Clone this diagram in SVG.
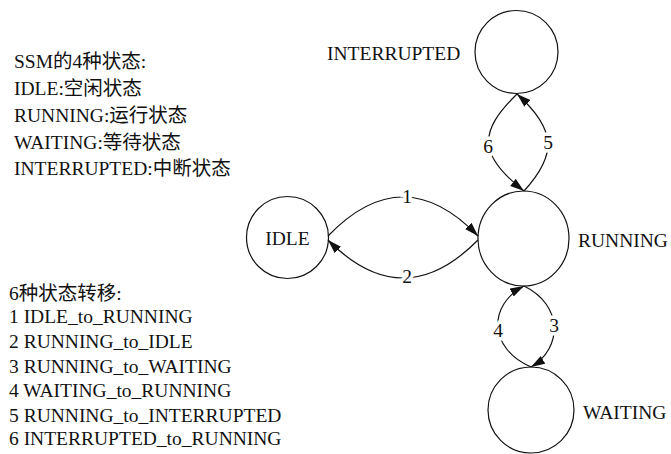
<svg xmlns="http://www.w3.org/2000/svg" width="671" height="454" viewBox="0 0 671 454" font-family="Liberation Serif, Times New Roman, Noto Sans CJK SC, serif" font-size="19.5">
<style>
text{fill:#111;}
.node{fill:none;stroke:#111;stroke-width:1.2;}
.edge{fill:none;stroke:#111;stroke-width:1.2;}
.el{text-anchor:middle;stroke:#fff;stroke-width:7;paint-order:stroke;}
</style>
<defs>
<marker id="arr" markerUnits="userSpaceOnUse" markerWidth="15" markerHeight="10" refX="14" refY="4.5" orient="auto">
<path d="M0,0 L14,4.5 L0,9 z" fill="#111"/>
</marker>
</defs>
<g id="legend">
<text x="14" y="68">SSM的4种状态:</text>
<text x="14" y="95">IDLE:空闲状态</text>
<text x="14" y="122">RUNNING:运行状态</text>
<text x="14" y="148.5">WAITING:等待状态</text>
<text x="14" y="175">INTERRUPTED:中断状态</text>
<text x="9" y="300">6种状态转移:</text>
<text x="9" y="323">1 IDLE_to_RUNNING</text>
<text x="9" y="348">2 RUNNING_to_IDLE</text>
<text x="9" y="373">3 RUNNING_to_WAITING</text>
<text x="9" y="397">4 WAITING_to_RUNNING</text>
<text x="9" y="422">5 RUNNING_to_INTERRUPTED</text>
<text x="9" y="445">6 INTERRUPTED_to_RUNNING</text>
</g>
<g id="connectors">
<path class="edge" d="M328,236 Q403,158 478,236" marker-end="url(#arr)"/>
<path class="edge" d="M478,240 Q403,316 328,240" marker-end="url(#arr)"/>
<path class="edge" d="M524,191 C557,155 557,130 517,94" marker-end="url(#arr)"/>
<path class="edge" d="M517,94 C478,132 478,155 524,191" marker-end="url(#arr)"/>
<path class="edge" d="M524,286 C563,305 563,348 531,367" marker-end="url(#arr)"/>
<path class="edge" d="M531,367 C488,348 488,305 524,286" marker-end="url(#arr)"/>
<text class="el" x="407" y="203">1</text>
<text class="el" x="407" y="283">2</text>
<text class="el" x="554" y="332">3</text>
<text class="el" x="498" y="337">4</text>
<text class="el" x="548" y="149">5</text>
<text class="el" x="488" y="153">6</text>
</g>
<g id="IDLE">
<circle class="node" cx="287.5" cy="237.5" r="41"/>
<text x="287.5" y="244.5" text-anchor="middle">IDLE</text>
</g>
<g id="RUNNING">
<ellipse class="node" cx="523.5" cy="238.5" rx="45.5" ry="47.5"/>
<text x="578" y="246.5">RUNNING</text>
</g>
<g id="INTERRUPTED">
<circle class="node" cx="516.5" cy="52" r="41.5"/>
<text x="327" y="59.5">INTERRUPTED</text>
</g>
<g id="WAITING">
<circle class="node" cx="531" cy="410" r="43"/>
<text x="583" y="419">WAITING</text>
</g>
</svg>
